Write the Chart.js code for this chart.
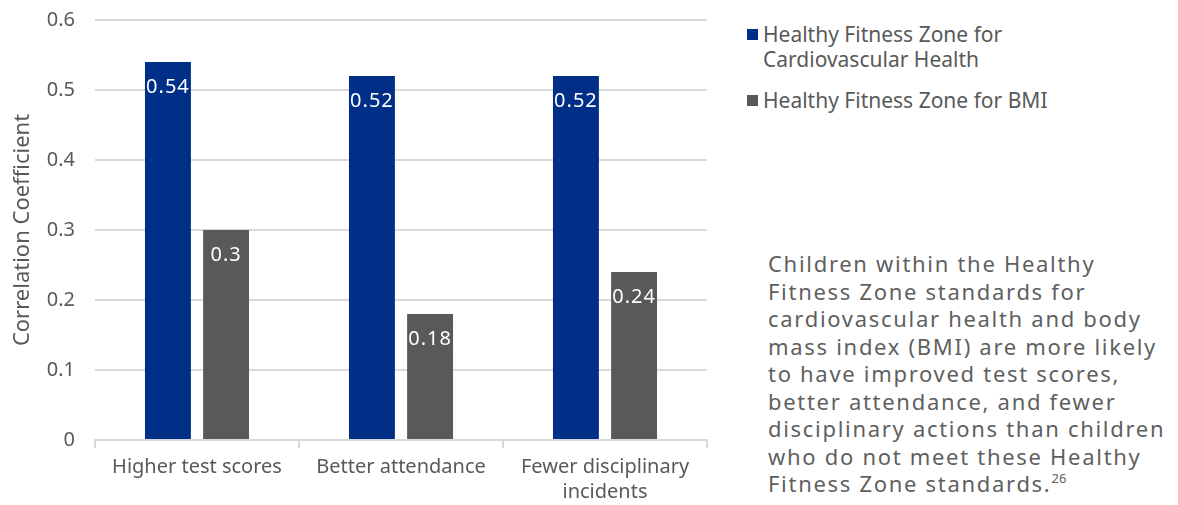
<!DOCTYPE html>
<html>
<head>
<meta charset="utf-8">
<script src="https://cdn.jsdelivr.net/npm/chart.js@4"></script>
<style>
  body { margin: 0; background: #fff; width: 1178px; height: 505px; position: relative; overflow: hidden; }
  #chartBox { position: absolute; left: 0; top: 0; width: 722px; height: 505px; }
  #legend { position: absolute; left: 747px; top: 22px; font-family: "Noto Sans", sans-serif; font-size: 21px; color: #595959; }
  .item { position: relative; padding-left: 16px; line-height: 25px; margin-bottom: 16px; }
  .swatch { position: absolute; left: 0; top: 7px; width: 11px; height: 11px; }
  #note { position: absolute; left: 768px; top: 250px; width: 410px; font-family: "Noto Sans", sans-serif; font-size: 22px; letter-spacing: 1.7px; line-height: 27.5px; color: #5f5f5f; }
  #note sup { font-size: 13px; letter-spacing: 0; vertical-align: 9px; line-height: 0; }
</style>
</head>
<body>
<div id="chartBox"><canvas id="myBarChart"></canvas></div>
<div id="legend"></div>
<div id="note"></div>
<script>
const categories = ['Higher test scores', 'Better attendance', ['Fewer disciplinary', 'incidents']];
const seriesNames = [['Healthy Fitness Zone for', 'Cardiovascular Health'], ['Healthy Fitness Zone for BMI']];
const cardioValues = [0.54, 0.52, 0.52];
const bmiValues = [0.3, 0.18, 0.24];
const yTicks = [0, 0.1, 0.2, 0.3, 0.4, 0.5, 0.6];
const seriesColors = ['#002F87', '#58595B'];
const noteLines = [
    'Children within the Healthy',
    'Fitness Zone standards for',
    'cardiovascular health and body',
    'mass index (BMI) are more likely',
    'to have improved test scores,',
    'better attendance, and fewer',
    'disciplinary actions than children',
    'who do not meet these Healthy',
    'Fitness Zone standards.'
];
const noteRef = '26';

// labels drawn inside the top of each bar
const barLabels = {
    id: 'barLabels',
    afterDatasetsDraw(chart) {
        const ctx = chart.ctx;
        ctx.save();
        ctx.fillStyle = '#ffffff';
        ctx.font = '20px "Noto Sans", sans-serif';
        ctx.letterSpacing = '1px';
        ctx.textAlign = 'center';
        ctx.textBaseline = 'middle';
        chart.data.datasets.forEach((ds, i) => {
            chart.getDatasetMeta(i).data.forEach((bar, j) => {
                ctx.fillText(String(ds.data[j]), bar.x, bar.y + 25);
            });
        });
        ctx.restore();
    }
};

function renderBarChart() {
    const ctx = document.getElementById('myBarChart').getContext('2d');

    const chart = new Chart(ctx, {
        type: 'bar',
        data: {
            labels: categories,
            datasets: [{
                label: seriesNames[0].join(' '),
                data: cardioValues,
                backgroundColor: seriesColors[0]
            }, {
                label: seriesNames[1].join(' '),
                data: bmiValues,
                backgroundColor: seriesColors[1]
            }]
        },
        options: {
            responsive: true,
            maintainAspectRatio: false,
            animation: false,
            categoryPercentage: 0.57,
            barPercentage: 0.79,
            layout: { padding: { top: 20, right: 15, bottom: 0, left: 10 } },
            plugins: {
                legend: { display: false },
                tooltip: { enabled: false }
            },
            scales: {
                x: {
                    afterFit(scale) { scale.height = 65; },
                    grid: { offset: true, drawOnChartArea: false, tickLength: 8, color: '#d9d9d9', lineWidth: 2 },
                    border: { color: '#d9d9d9', width: 2 },
                    ticks: { color: '#595959', font: { family: 'Noto Sans', size: 20, lineHeight: 1.25 }, padding: 7, maxRotation: 0 }
                },
                y: {
                    min: 0,
                    max: 0.6,
                    afterBuildTicks(scale) {
                        scale.ticks = yTicks.map(v => ({ value: v }));
                    },
                    afterFit(scale) {
                        scale.width = 85;
                        scale.paddingTop = 0;
                        scale.paddingBottom = 0;
                    },
                    grid: { color: '#d9d9d9', lineWidth: 2, drawTicks: false },
                    border: { display: false },
                    ticks: { color: '#595959', font: { family: 'Noto Sans', size: 20 }, padding: 20 },
                    title: { display: true, text: 'Correlation Coefficient', color: '#595959', font: { family: 'Noto Sans', size: 22 }, padding: 0 }
                }
            }
        },
        plugins: [barLabels]
    });

    // legend on the right, built from the series names
    const legend = document.getElementById('legend');
    seriesNames.forEach((name, i) => {
        const item = document.createElement('div');
        item.className = 'item';
        item.innerHTML = '<span class="swatch" style="background:' + seriesColors[i] + '"></span>' + name.join('<br>');
        legend.appendChild(item);
    });

    const note = document.getElementById('note');
    note.innerHTML = noteLines.join('<br>') + '<sup>' + noteRef + '</sup>';
}

renderBarChart();
</script>
</body>
</html>
